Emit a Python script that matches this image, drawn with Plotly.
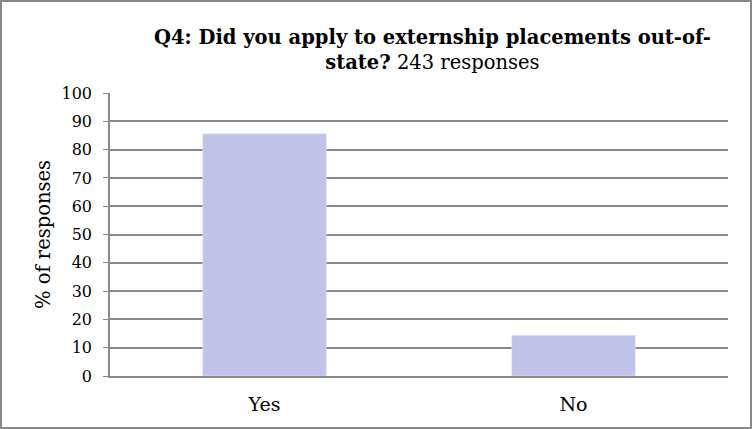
import plotly.graph_objects as go

categories = ["Yes", "No"]
values = [85.6, 14.4]
y_ticks = list(range(0, 101, 10))

W, H = 752, 429
ml, mr, mt, mb = 110, 24, 93, 53
pw, ph = W - ml - mr, H - mt - mb

fig = go.Figure(go.Bar(x=categories, y=values, marker_color="#BFC3E8", width=0.4))

fig.update_layout(
    width=W, height=H,
    margin=dict(l=ml, r=mr, t=mt, b=mb),
    paper_bgcolor="white", plot_bgcolor="white",
    font=dict(family="DejaVu Serif", color="black"),
    showlegend=False,
    annotations=[dict(
        text="<b>Q4: Did you apply to externship placements out-of-</b><br><b>state?</b> 243 responses",
        xref="paper", yref="paper", x=(433 - ml) / pw, y=1 + (93 - 24) / ph,
        xanchor="center", yanchor="top", showarrow=False,
        font=dict(size=19.5, family="DejaVu Serif", color="black"),
    )],
    shapes=[dict(type="rect", xref="paper", yref="paper",
                 x0=-(ml - 1) / pw, x1=1 + (mr - 1) / pw,
                 y0=-(mb - 1) / ph, y1=1 + (mt - 1) / ph,
                 line=dict(color="#888888", width=2), layer="below")],
)
fig.update_yaxes(
    range=[0, 100], tickvals=y_ticks, showgrid=True, gridcolor="#898989", gridwidth=1.5,
    showline=True, linecolor="#898989", linewidth=1.5, ticks="outside", ticklen=5,
    tickcolor="#898989", tickfont=dict(size=16), zeroline=False, ticklabelstandoff=8,
    title=dict(text="% of responses", font=dict(size=19.5), standoff=6),
)
fig.update_xaxes(
    showline=True, linecolor="#898989", linewidth=1.5, tickfont=dict(size=19),
    ticks="", showgrid=False, ticklabelstandoff=10,
)

fig.write_html("out.html", config={"displayModeBar": False},
               post_script="document.body.style.margin='0';document.body.style.overflow='hidden';")
